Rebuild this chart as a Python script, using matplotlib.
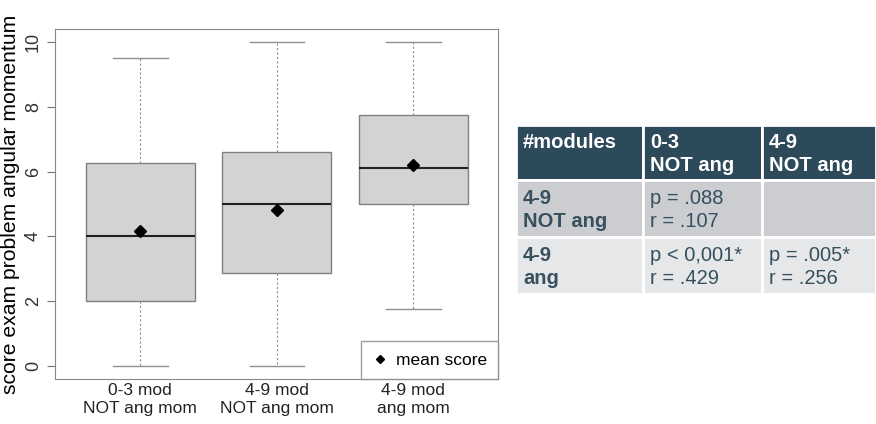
import matplotlib
matplotlib.use("Agg")
import matplotlib.pyplot as plt
from matplotlib.patches import Rectangle

plt.rcParams['font.family'] = ['Liberation Sans', 'DejaVu Sans']

# boxplot statistics per group
groups = ["0-3 mod\nNOT ang mom", "4-9 mod\nNOT ang mom", "4-9 mod\nang mom"]
whisker_low = [0.0, 0.0, 1.75]
q1 = [2.0, 2.88, 5.0]
median = [4.0, 5.0, 6.12]
q3 = [6.25, 6.62, 7.75]
whisker_high = [9.5, 10.0, 10.0]
mean_score = [4.16, 4.83, 6.19]

# pairwise comparison table
col_labels = ["#modules", "0-3\nNOT ang", "4-9\nNOT ang"]
row_labels = ["4-9\nNOT ang", "4-9\nang"]
cell_text = [["p = .088\nr = .107", ""],
             ["p < 0,001*\nr = .429", "p = .005*\nr = .256"]]

fig = plt.figure(figsize=(8.76, 4.24), dpi=100)
ax = fig.add_axes([55/876, 1-379/424, 443/876, 350/424])

stats = []
for i in range(len(groups)):
    stats.append(dict(whislo=whisker_low[i], q1=q1[i], med=median[i],
                      q3=q3[i], whishi=whisker_high[i], mean=mean_score[i],
                      fliers=[], label=groups[i]))

ax.bxp(stats, positions=[1, 2, 3], widths=0.8, patch_artist=True,
       showmeans=True,
       boxprops=dict(facecolor='#d3d3d3', edgecolor='#808080', linewidth=1),
       medianprops=dict(color='#222222', linewidth=1.5),
       whiskerprops=dict(color='#909090', linewidth=0.8, linestyle=(0, (2, 2))),
       capprops=dict(color='#909090', linewidth=1),
       meanprops=dict(marker='D', markerfacecolor='black', markeredgecolor='black',
                      markersize=6))

ax.set_xlim(0.375, 3.62)
ax.set_ylim(-0.4, 10.4)
ax.set_yticks([0, 2, 4, 6, 8, 10])
ax.tick_params(axis='y', labelsize=13, length=6, color='#777777', labelcolor='#333333')
ax.tick_params(axis='x', labelsize=12.5, length=0, pad=3, labelcolor='#222222')
for lbl in ax.get_yticklabels():
    lbl.set_rotation(90)
    lbl.set_va('center')
for sp in ax.spines.values():
    sp.set_color('#888888')
ax.set_ylabel("score exam problem angular momentum", fontsize=15.2)
ax.yaxis.set_label_coords(-0.08, 0.5)

mean_handle = plt.Line2D([], [], marker='D', color='black', linestyle='none',
                         markersize=4.5)
leg = ax.legend([mean_handle], ["mean score"], loc='lower right',
                fontsize=12.5, frameon=True, fancybox=False, borderaxespad=0,
                borderpad=0.65, handletextpad=0.45, handlelength=0.9)
leg.get_frame().set_edgecolor('#888888')
leg.get_frame().set_linewidth(1)

# table drawn in pixel units
tab = fig.add_axes([516/876, 1-294/424, 360/876, 169/424])
tab.set_xlim(0, 360)
tab.set_ylim(169, 0)
tab.axis('off')

col_x = [0, 127, 246, 360]
row_y = [0, 55, 112, 169]
header_col = '#2d4a5a'
row_cols = ['#cbcdd0', '#e6e7e8']
text_col = '#36505f'

for c in range(3):
    tab.add_patch(Rectangle((col_x[c], row_y[0]), col_x[c+1]-col_x[c],
                            row_y[1]-row_y[0], facecolor=header_col,
                            edgecolor='white', linewidth=2))
    tab.text(col_x[c]+7, row_y[0]+8, col_labels[c], color='white',
             fontsize=14.5, fontweight='bold', va='top', ha='left',
             linespacing=1.25)

for r in range(2):
    for c in range(3):
        tab.add_patch(Rectangle((col_x[c], row_y[r+1]), col_x[c+1]-col_x[c],
                                row_y[r+2]-row_y[r+1], facecolor=row_cols[r],
                                edgecolor='white', linewidth=2))
    tab.text(col_x[0]+7, row_y[r+1]+9, row_labels[r], color=text_col,
             fontsize=14.5, fontweight='bold', va='top', ha='left',
             linespacing=1.25)
    for c in range(2):
        tab.text(col_x[c+1]+7, row_y[r+1]+9, cell_text[r][c], color=text_col,
                 fontsize=14.5, va='top', ha='left', linespacing=1.25)

fig.savefig("out.png", dpi=100)
